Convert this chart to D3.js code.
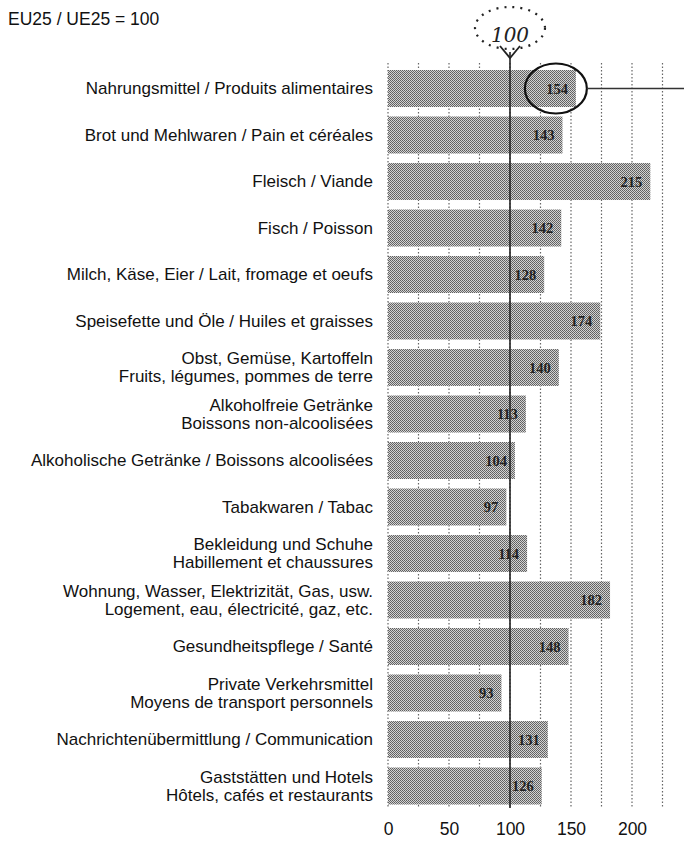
<!DOCTYPE html>
<html>
<head>
<meta charset="utf-8">
<script src="https://cdn.jsdelivr.net/npm/d3@7"></script>
<style>
  body { margin: 0; background: #fff; }
  .lab { font-family: "Liberation Sans", Arial, sans-serif; font-size: 17px; fill: #111; }
  .val { font-family: "Liberation Serif", serif; font-size: 14.5px; font-weight: bold; fill: #222; }
  .hand { font-family: "DejaVu Serif", serif; font-style: italic; font-size: 20px; fill: #222; }
</style>
</head>
<body>
<div id="chart"></div>
<script>
var w = 684,
    h = 848;

// categories (German / French, two lines where the original wraps)
var categories = [
  ["Nahrungsmittel / Produits alimentaires"],
  ["Brot und Mehlwaren / Pain et céréales"],
  ["Fleisch / Viande"],
  ["Fisch / Poisson"],
  ["Milch, Käse, Eier / Lait, fromage et oeufs"],
  ["Speisefette und Öle / Huiles et graisses"],
  ["Obst, Gemüse, Kartoffeln", "Fruits, légumes, pommes de terre"],
  ["Alkoholfreie Getränke", "Boissons non-alcoolisées"],
  ["Alkoholische Getränke / Boissons alcoolisées"],
  ["Tabakwaren / Tabac"],
  ["Bekleidung und Schuhe", "Habillement et chaussures"],
  ["Wohnung, Wasser, Elektrizität, Gas, usw.", "Logement, eau, électricité, gaz, etc."],
  ["Gesundheitspflege / Santé"],
  ["Private Verkehrsmittel", "Moyens de transport personnels"],
  ["Nachrichtenübermittlung / Communication"],
  ["Gaststätten und Hotels", "Hôtels, cafés et restaurants"]
];
var values = [154, 143, 215, 142, 128, 174, 140, 113, 104, 97, 114, 182, 148, 93, 131, 126];
var tickValues = [0, 50, 100, 150, 200];
var gridValues = d3.range(0, 226, 25);

var svg = d3.select("#chart").append("svg")
    .attr("width", w)
    .attr("height", h);

// halftone fill like the printed original
var pat = svg.append("defs").append("pattern")
    .attr("id", "dots")
    .attr("width", 2).attr("height", 2)
    .attr("patternUnits", "userSpaceOnUse");
pat.append("rect").attr("width", 2).attr("height", 2).attr("fill", "#d2d2d2");
pat.append("rect").attr("width", 1).attr("height", 1).attr("fill", "#5e5e5e");
pat.append("rect").attr("x", 1).attr("y", 1).attr("width", 1).attr("height", 1).attr("fill", "#6a6a6a");

var x = d3.scaleLinear().domain([0, 100]).range([388, 510]);
var y = d3.scaleBand()
    .domain(d3.range(values.length))
    .range([65.25, 809.25])
    .paddingInner(0.204)
    .paddingOuter(0.102);

svg.append("text")
    .attr("class", "lab")
    .attr("x", 8).attr("y", 25)
    .style("font-size", "17.5px")
    .text("EU25 / UE25 = 100");

// dotted grid
svg.append("g").selectAll("line")
    .data(gridValues)
  .enter().append("line")
    .attr("x1", function(d) { return x(d); })
    .attr("x2", function(d) { return x(d); })
    .attr("y1", 63).attr("y2", 808)
    .attr("stroke", "#666")
    .attr("stroke-width", 1.2)
    .attr("stroke-dasharray", "1.5,2");

var row = svg.append("g").selectAll("g")
    .data(values)
  .enter().append("g");

row.append("rect")
    .attr("x", x(0))
    .attr("y", function(d, i) { return y(i); })
    .attr("width", function(d) { return x(d) - x(0); })
    .attr("height", y.bandwidth())
    .attr("fill", "url(#dots)");

row.append("text")
    .attr("class", "val")
    .attr("x", function(d) { return x(d) - 8; })
    .attr("y", function(d, i) { return y(i) + y.bandwidth() / 2; })
    .attr("dy", "0.35em")
    .attr("text-anchor", "end")
    .text(function(d) { return d; });

// category labels
var labels = svg.append("g").selectAll("text")
    .data(categories)
  .enter().append("text")
    .attr("class", "lab")
    .attr("text-anchor", "end")
    .attr("transform", function(d, i) { return "translate(373," + (y(i) + y.bandwidth() / 2) + ")"; });

labels.selectAll("tspan")
    .data(function(d) { return d; })
  .enter().append("tspan")
    .attr("x", 0)
    .attr("y", function(d, j, nodes) { return nodes.length > 1 ? (j === 0 ? -9 : 9) : 0; })
    .attr("dy", "0.35em")
    .text(function(d) { return d; });

// reference line at 100
svg.append("line")
    .attr("x1", x(100)).attr("x2", x(100))
    .attr("y1", 52).attr("y2", 808)
    .attr("stroke", "#222")
    .attr("stroke-width", 1.6);

// axis labels
var axis = svg.append("g")
    .attr("transform", "translate(0,823)")
    .call(d3.axisBottom(x).tickValues(tickValues).tickSize(0).tickPadding(0));
axis.select(".domain").remove();
axis.selectAll("text")
    .attr("fill", "#111")
    .style("font-family", "'Liberation Sans', Arial, sans-serif")
    .style("font-size", "17.5px");

// hand-drawn annotations
svg.append("ellipse")
    .attr("cx", 510).attr("cy", 28)
    .attr("rx", 35).attr("ry", 21)
    .attr("fill", "none")
    .attr("stroke", "#222")
    .attr("stroke-width", 2.2)
    .attr("stroke-dasharray", "2,6");
svg.append("text")
    .attr("class", "hand")
    .attr("x", 510).attr("y", 42)
    .attr("text-anchor", "middle")
    .text("100");
svg.append("path")
    .attr("d", "M500,46 L510,58 L520,46")
    .attr("fill", "none")
    .attr("stroke", "#222")
    .attr("stroke-width", 1.8);

svg.append("ellipse")
    .attr("cx", x(values[0]) - 20).attr("cy", y(0) + y.bandwidth() / 2)
    .attr("rx", 31).attr("ry", 25)
    .attr("fill", "none")
    .attr("stroke", "#111")
    .attr("stroke-width", 2.2);
svg.append("line")
    .attr("x1", x(values[0]) + 11).attr("x2", w)
    .attr("y1", y(0) + y.bandwidth() / 2).attr("y2", y(0) + y.bandwidth() / 2)
    .attr("stroke", "#333")
    .attr("stroke-width", 1.5);
</script>
</body>
</html>
